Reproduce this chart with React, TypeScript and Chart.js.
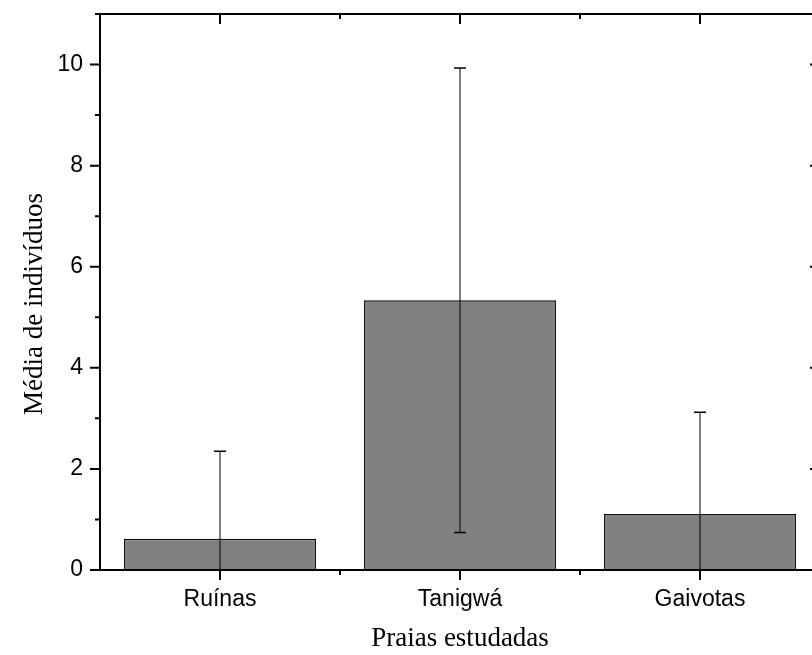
import React, { useEffect, useRef } from "react";
import { Chart, registerables } from "chart.js";

Chart.register(...registerables);

const categories = ["Ruínas", "Tanigwá", "Gaivotas"];
const means = [0.62, 5.335, 1.11];
const errors = [1.73, 4.595, 2.01];
const yMin = 0;
const yMax = 11;
const yStep = 2;
const xTitle = "Praias estudadas";
const yTitle = "Média de indivíduos";

const framePlugin = {
  id: "framePlugin",
  afterDatasetsDraw(chart: any) {
    const { ctx, chartArea, scales } = chart;
    const { left, right, top, bottom } = chartArea;
    const x = scales.x;
    const y = scales.y;

    // error bars
    ctx.save();
    ctx.beginPath();
    ctx.rect(left, top, right - left, bottom - top);
    ctx.clip();
    ctx.strokeStyle = "#000";
    means.forEach((m, i) => {
      const px = x.getPixelForValue(i);
      const yHi = y.getPixelForValue(m + errors[i]);
      const yLo = y.getPixelForValue(m - errors[i]);
      ctx.lineWidth = 1;
      ctx.beginPath();
      ctx.moveTo(px, yHi);
      ctx.lineTo(px, yLo);
      ctx.stroke();
      ctx.lineWidth = 1.5;
      ctx.beginPath();
      ctx.moveTo(px - 6, yHi);
      ctx.lineTo(px + 6, yHi);
      ctx.moveTo(px - 6, yLo);
      ctx.lineTo(px + 6, yLo);
      ctx.stroke();
    });
    ctx.restore();

    // frame
    ctx.save();
    ctx.strokeStyle = "#000";
    ctx.lineWidth = 2;
    ctx.strokeRect(left, top, right - left, bottom - top);

    // y ticks
    for (let v = yMin; v <= yMax; v += 1) {
      const py = y.getPixelForValue(v);
      const len = v % 2 === 0 ? 10 : 5;
      ctx.beginPath();
      ctx.moveTo(left - len, py);
      ctx.lineTo(left, py);
      ctx.moveTo(right - len, py);
      ctx.lineTo(right, py);
      ctx.stroke();
    }
    // x ticks
    categories.forEach((_, i) => {
      const px = x.getPixelForValue(i);
      ctx.beginPath();
      ctx.moveTo(px, bottom);
      ctx.lineTo(px, bottom + 10);
      ctx.moveTo(px, top);
      ctx.lineTo(px, top + 10);
      ctx.stroke();
      if (i < categories.length - 1) {
        const pm = x.getPixelForValue(i + 0.5);
        ctx.beginPath();
        ctx.moveTo(pm, bottom);
        ctx.lineTo(pm, bottom + 5);
        ctx.moveTo(pm, top);
        ctx.lineTo(pm, top + 5);
        ctx.stroke();
      }
    });

    // titles
    ctx.fillStyle = "#000";
    ctx.font = "27px 'Liberation Serif', 'Times New Roman', serif";
    ctx.textAlign = "center";
    ctx.textBaseline = "alphabetic";
    ctx.fillText(xTitle, x.getPixelForValue(1), 646);
    ctx.translate(42, 304);
    ctx.rotate(-Math.PI / 2);
    ctx.fillText(yTitle, 0, 0);
    ctx.restore();
  },
};

export default function App() {
  const ref = useRef<HTMLCanvasElement | null>(null);
  useEffect(() => {
    if (!ref.current) return;
    const chart = new Chart(ref.current, {
      type: "bar",
      data: {
        labels: categories,
        datasets: [
          {
            data: means,
            backgroundColor: "#808080",
            borderColor: "#111",
            borderWidth: 1.5,
            categoryPercentage: 1,
            barPercentage: 0.8,
          },
        ],
      },
      options: {
        responsive: false,
        animation: false,
        layout: { padding: { top: 14, right: 20, left: 0, bottom: 0 } },
        plugins: { legend: { display: false }, tooltip: { enabled: false } },
        scales: {
          x: {
            grid: { display: false, drawTicks: false },
            border: { display: false },
            ticks: {
              color: "#000",
              font: { family: "'Liberation Sans', Arial, sans-serif", size: 23 },
              padding: 16,
              maxRotation: 0,
            },
            afterFit: (s: any) => {
              s.height = 85;
              s.paddingLeft = 0;
              s.paddingRight = 0;
            },
          },
          y: {
            min: yMin,
            max: yMax,
            grid: { display: false, drawTicks: false },
            border: { display: false },
            ticks: {
              stepSize: yStep,
              includeBounds: false,
              color: "#000",
              font: { family: "'Liberation Sans', Arial, sans-serif", size: 23 },
              padding: 17,
            },
            afterFit: (s: any) => {
              s.width = 100;
              s.paddingTop = 0;
              s.paddingBottom = 0;
            },
          },
        },
      },
      plugins: [framePlugin],
    });
    return () => chart.destroy();
  }, []);
  return (
    <div
      style={{
        position: "fixed",
        left: 0,
        top: 0,
        width: 812,
        height: 655,
        overflow: "hidden",
        background: "#fff",
      }}
    >
      <canvas ref={ref} width={840} height={655} style={{ width: 840, height: 655, display: "block" }} />
    </div>
  );
}
